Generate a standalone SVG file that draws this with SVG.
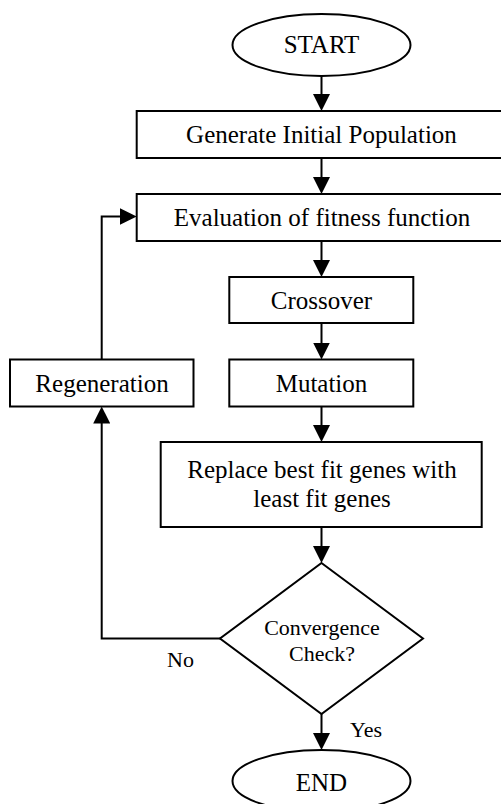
<svg xmlns="http://www.w3.org/2000/svg" width="501" height="804" viewBox="0 0 501 804">
<style>
  .shape { fill: #ffffff; stroke: #000000; stroke-width: 2; }
  .conn { fill: none; stroke: #000000; stroke-width: 2; marker-end: url(#arrow); }
  .t { font-family: "Liberation Serif", "Times New Roman", serif; font-size: 25px; fill: #000000; text-anchor: middle; }
  .s { font-family: "Liberation Serif", "Times New Roman", serif; font-size: 22px; fill: #000000; }
</style>
<defs>
  <marker id="arrow" markerUnits="userSpaceOnUse" markerWidth="17" markerHeight="17" refX="9" refY="8.5" orient="auto" viewBox="0 0 17 17">
    <path d="M0,0 L17,8.5 L0,17 Z" fill="#000000"/>
  </marker>
</defs>
<rect width="501" height="804" fill="#ffffff"/>

<g id="start">
  <ellipse class="shape" cx="321.5" cy="45" rx="89" ry="31"/>
  <text class="t" x="321.5" y="53">START</text>
</g>
<g id="generate">
  <rect class="shape" x="136.7" y="111" width="370" height="47"/>
  <text class="t" x="321.5" y="143">Generate Initial Population</text>
</g>
<g id="evaluation">
  <rect class="shape" x="136.7" y="194" width="370" height="47"/>
  <text class="t" x="322" y="226">Evaluation of fitness function</text>
</g>
<g id="crossover">
  <rect class="shape" x="229.3" y="277" width="184" height="46"/>
  <text class="t" x="321.5" y="309">Crossover</text>
</g>
<g id="mutation">
  <rect class="shape" x="229.3" y="359.5" width="184" height="47"/>
  <text class="t" x="321.5" y="391.5">Mutation</text>
</g>
<g id="regeneration">
  <rect class="shape" x="10" y="359.5" width="183.5" height="47"/>
  <text class="t" x="102" y="391.5">Regeneration</text>
</g>
<g id="replace">
  <rect class="shape" x="160.7" y="442" width="321" height="85"/>
  <text class="t" x="322" y="478">Replace best fit genes with</text>
  <text class="t" x="322" y="507">least fit genes</text>
</g>
<g id="convergence">
  <polygon class="shape" points="321.5,563 423,638.5 321.5,714 220,638.5"/>
  <text class="s" x="322" y="635" text-anchor="middle">Convergence</text>
  <text class="s" x="322" y="661" text-anchor="middle">Check?</text>
</g>
<g id="end">
  <ellipse class="shape" cx="321.5" cy="781" rx="89" ry="31"/>
  <text class="t" x="321.5" y="791">END</text>
</g>

<g id="connectors">
  <path class="conn" d="M321.5,76 V103"/>
  <path class="conn" d="M321.5,158 V186"/>
  <path class="conn" d="M321.5,241 V269"/>
  <path class="conn" d="M321.5,323 V351.5"/>
  <path class="conn" d="M321.5,406.5 V434"/>
  <path class="conn" d="M321.5,527 V555"/>
  <path class="conn" d="M321.5,714 V742"/>
  <path class="conn" d="M220,638.5 H101.7 V414.5"/>
  <path class="conn" d="M101.7,359.5 V216.5 H128.7"/>
  <text class="s" x="167" y="667">No</text>
  <text class="s" x="350" y="737">Yes</text>
</g>
</svg>
